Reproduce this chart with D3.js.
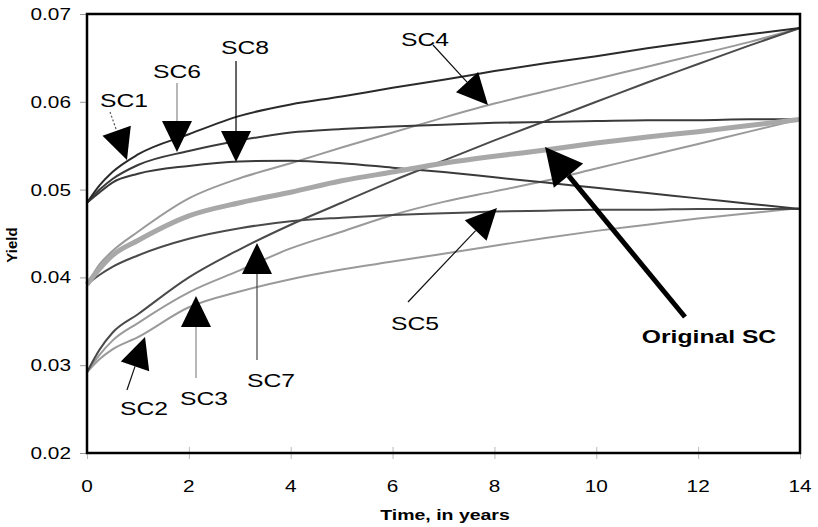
<!DOCTYPE html>
<html>
<head>
<meta charset="utf-8">
<script src="https://cdn.jsdelivr.net/npm/d3@7"></script>
<style>
  body { margin: 0; background: #fff; }
  text { font-family: "Liberation Sans", Arial, sans-serif; }
</style>
</head>
<body>
<div id="main"></div>
<script>
// time grid (years)
var times = [0, 0.25, 0.5, 1, 2, 3, 4, 5, 6, 7, 8, 9, 10, 11, 12, 13, 14];

// yields
var sc1  = [.0485, .0505, .0520, .0540, .0563, .0584, .0597, .0606, .0616, .0625, .0635, .0644, .0652, .0661, .0669, .0677, .0684];
var sc6  = [.0485, .0500, .0512, .0528, .0544, .0556, .0565, .0569, .0572, .0574, .0576, .0577, .0578, .0579, .0579, .0580, .0580];
var sc8  = [.0485, .0497, .0508, .0518, .0527, .0532, .0533, .0530, .0525, .0520, .0514, .0508, .0502, .0496, .0490, .0484, .0478];
var orig = [.0392, .0410, .0425, .0442, .0470, .0485, .0497, .0510, .0520, .0530, .0538, .0545, .0553, .0560, .0566, .0573, .0580];
var sc4  = [.0392, .0415, .0430, .0452, .0490, .0513, .0530, .0548, .0565, .0582, .0598, .0612, .0626, .0640, .0654, .0668, .0684];
var sc5  = [.0392, .0403, .0412, .0425, .0444, .0456, .0464, .0468, .0471, .0473, .0475, .0476, .0477, .0477, .0478, .0478, .0478];
var sc7  = [.0292, .0318, .0337, .0358, .0400, .0432, .0460, .0485, .0510, .0533, .0556, .0578, .0600, .0622, .0643, .0664, .0684];
var sc3  = [.0292, .0312, .0328, .0348, .0383, .0408, .0433, .0452, .0471, .0486, .0498, .0510, .0524, .0538, .0552, .0566, .0580];
var sc2  = [.0292, .0307, .0318, .0332, .0366, .0384, .0398, .0409, .0418, .0427, .0436, .0445, .0453, .0460, .0467, .0473, .0479];

var xTicks = [0, 2, 4, 6, 8, 10, 12, 14];
var yTicks = [0.02, 0.03, 0.04, 0.05, 0.06, 0.07];

var W = 818, H = 527;
var svg = d3.select("#main").append("svg")
    .attr("width", W)
    .attr("height", H);

var x = d3.scaleLinear().domain([0, 14]).range([87, 800]);
var y = d3.scaleLinear().domain([0.02, 0.07]).range([453, 14]);

// text is stretched sideways in the original
var SX = 1.3;
function label(px, py, str, size, weight) {
  return svg.append("text")
    .attr("transform", "translate(" + px + "," + py + ") scale(" + SX + ",1)")
    .attr("text-anchor", "middle")
    .attr("font-size", size)
    .attr("font-weight", weight || "normal")
    .attr("fill", "#000")
    .text(str);
}

// axes
var yAxis = d3.axisLeft(y).tickValues(yTicks).tickSize(7).tickFormat(d3.format(".2f"));
var gy = svg.append("g").attr("transform", "translate(87,0)").call(yAxis);
gy.select(".domain").remove();
gy.selectAll("line").attr("stroke", "#999");
gy.selectAll("text").remove();
yTicks.forEach(function(v) {
  svg.append("text")
    .attr("transform", "translate(71," + (y(v) + 6) + ") scale(" + SX + ",1)")
    .attr("text-anchor", "end")
    .attr("font-size", 16)
    .text(d3.format(".2f")(v));
});

var xAxis = d3.axisBottom(x).tickValues(xTicks).tickSize(6);
var gx = svg.append("g").attr("transform", "translate(0,453)").call(xAxis);
gx.select(".domain").remove();
gx.selectAll("line").attr("y1", -6).attr("stroke", "#bbb");
gx.selectAll("text").remove();
xTicks.forEach(function(t) {
  label(x(t), 492, t, 16);
});

// lines
var line = d3.line()
    .x(function(d, i) { return x(times[i]); })
    .y(function(d) { return y(d); })
    .curve(d3.curveMonotoneX);

var series = [
  { v: sc2,  c: "#9a9a9a", w: 2 },
  { v: sc3,  c: "#9a9a9a", w: 2 },
  { v: sc4,  c: "#9a9a9a", w: 2 },
  { v: sc5,  c: "#4a4a4a", w: 2 },
  { v: sc7,  c: "#4a4a4a", w: 2 },
  { v: sc8,  c: "#3a3a3a", w: 2 },
  { v: sc6,  c: "#3a3a3a", w: 2 },
  { v: sc1,  c: "#2a2a2a", w: 2 },
  { v: orig, c: "#a8a8a8", w: 5 }
];
series.forEach(function(s) {
  svg.append("path")
    .attr("d", line(s.v))
    .attr("fill", "none")
    .attr("stroke", s.c)
    .attr("stroke-width", s.w);
});

// frame
svg.append("rect")
  .attr("x", x(0)).attr("y", y(0.07))
  .attr("width", x(14) - x(0)).attr("height", y(0.02) - y(0.07))
  .attr("fill", "none").attr("stroke", "#000").attr("stroke-width", 2.5);

// arrows: tip / tail in data units
function arrow(tip, tail, opt) {
  var tx = x(tip[0]), ty = y(tip[1]), ax = x(tail[0]), ay = y(tail[1]);
  var dx = tx - ax, dy = ty - ay, len = Math.sqrt(dx * dx + dy * dy);
  var ux = dx / len, uy = dy / len;
  var L = opt.len || 31, hw = opt.half || 15;
  var bx = tx - ux * L, by = ty - uy * L;
  svg.append("line")
    .attr("x1", ax).attr("y1", ay).attr("x2", bx).attr("y2", by)
    .attr("stroke", opt.c || "#000")
    .attr("stroke-width", opt.w || 1.2)
    .attr("stroke-dasharray", opt.dash || null);
  var p = d3.path();
  p.moveTo(tx, ty);
  p.lineTo(bx - uy * hw, by + ux * hw);
  p.lineTo(bx + uy * hw, by - ux * hw);
  p.closePath();
  svg.append("path").attr("d", p).attr("fill", "#000");
}

arrow([0.785, 0.05337], [0.452, 0.05884], { c: "#555", dash: "2,2" });
arrow([1.767, 0.05428], [1.767, 0.06214], { c: "#888" });
arrow([2.926, 0.05314], [2.926, 0.06465], { c: "#000" });
arrow([7.874, 0.05964], [6.794, 0.06647], { c: "#111" });
arrow([8.050, 0.04790], [6.303, 0.03720], { c: "#111" });
arrow([1.139, 0.03321], [0.785, 0.02718], { c: "#111" });
arrow([2.140, 0.03788], [2.140, 0.02854], { c: "#888" });
arrow([3.338, 0.04392], [3.338, 0.03059], { c: "#444" });
arrow([8.993, 0.05485], [11.742, 0.03549], { c: "#000", w: 5, len: 37, half: 19 });

// labels
label(x(0.726), y(0.05941), "SC1", 19);
label(x(1.767), y(0.06271), "SC6", 19);
label(x(3.102), y(0.06544), "SC8", 19);
label(x(6.637), y(0.06636), "SC4", 19);
label(x(6.440), y(0.03401), "SC5", 19);
label(x(1.119), y(0.02433), "SC2", 19);
label(x(2.297), y(0.02547), "SC3", 19);
label(x(3.613), y(0.02752), "SC7", 19);
label(x(12.213), y(0.03253), "Original SC", 19, "bold");

// axis titles
label(445, 520, "Time, in years", 15, "bold");
svg.append("text")
  .attr("transform", "translate(17,245) rotate(-90)")
  .attr("text-anchor", "middle")
  .attr("font-size", 15)
  .attr("font-weight", "bold")
  .text("Yield");
</script>
</body>
</html>
